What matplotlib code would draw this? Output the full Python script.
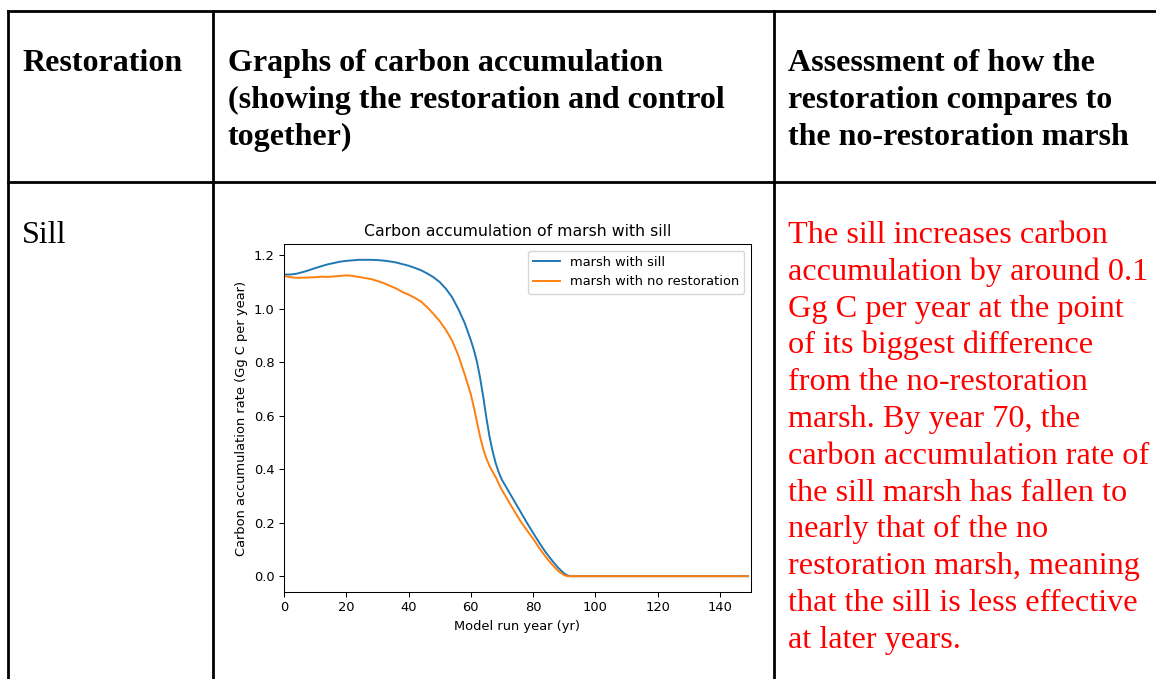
import matplotlib
matplotlib.use('Agg')
import matplotlib.pyplot as plt
from matplotlib.lines import Line2D

# carbon accumulation curves (Gg C per year)
years = [0, 2, 4, 6, 8, 10, 12, 14, 16, 18, 20, 22, 24, 26, 28, 30, 32, 34, 36, 38,
         40, 42, 44, 46, 48, 50, 52, 54, 56, 58, 60, 61, 62, 63, 64, 65, 66, 67, 68, 69,
         70, 72, 74, 76, 78, 80, 82, 84, 86, 88, 90, 91, 92, 100, 120, 149]
sill = [1.127, 1.127, 1.130, 1.136, 1.143, 1.151, 1.158, 1.165, 1.170, 1.175,
        1.178, 1.180, 1.182, 1.182, 1.182, 1.181, 1.179, 1.176, 1.172, 1.166,
        1.160, 1.152, 1.143, 1.131, 1.117, 1.099, 1.074, 1.042, 0.998, 0.947,
        0.882, 0.845, 0.800, 0.740, 0.670, 0.592, 0.522, 0.467, 0.422, 0.387,
        0.360, 0.320, 0.280, 0.240, 0.200, 0.162, 0.125, 0.090, 0.060, 0.032,
        0.010, 0.003, 0.0, 0.0, 0.0, 0.0]
no_restoration = [1.122, 1.117, 1.115, 1.115, 1.116, 1.117, 1.119, 1.118, 1.120, 1.122,
                  1.124, 1.122, 1.118, 1.114, 1.110, 1.103, 1.095, 1.085, 1.075, 1.062,
                  1.052, 1.040, 1.026, 1.005, 0.980, 0.953, 0.920, 0.880, 0.825, 0.755,
                  0.680, 0.630, 0.575, 0.520, 0.475, 0.440, 0.412, 0.390, 0.370, 0.345,
                  0.322, 0.282, 0.243, 0.205, 0.172, 0.140, 0.105, 0.073, 0.045, 0.020,
                  0.004, 0.0, 0.0, 0.0, 0.0, 0.0]

header_restoration = ['Restoration']
header_graphs = ['Graphs of carbon accumulation',
                 '(showing the restoration and control',
                 'together)']
header_assessment = ['Assessment of how the',
                     'restoration compares to',
                     'the no-restoration marsh']
row_label = 'Sill'
assessment_lines = ['The sill increases carbon',
                    'accumulation by around 0.1',
                    'Gg C per year at the point',
                    'of its biggest difference',
                    'from the no-restoration',
                    'marsh. By year 70, the',
                    'carbon accumulation rate of',
                    'the sill marsh has fallen to',
                    'nearly that of the no',
                    'restoration marsh, meaning',
                    'that the sill is less effective',
                    'at later years.']

W, H = 1156, 679
fig = plt.figure(figsize=(W / 100, H / 100), dpi=100)


def fx(x):
    return x / W


def fy(y):
    return 1 - y / H


def rule(x0, y0, x1, y1):
    fig.add_artist(Line2D([fx(x0), fx(x1)], [fy(y0), fy(y1)],
                          transform=fig.transFigure, color='black', lw=2.0,
                          solid_capstyle='projecting'))


# table grid
rule(8, 11, W, 11)
rule(8, 182, W, 182)
for xv in (8, 213, 774):
    rule(xv, 11, xv, H)

serif = 'Liberation Serif'
head = dict(family=serif, fontsize=23, fontweight='bold', color='black', va='baseline')
for i, line in enumerate(header_restoration):
    fig.text(fx(22), fy(71 + 36.8 * i), line, **head)
for i, line in enumerate(header_graphs):
    fig.text(fx(228), fy(71 + 36.8 * i), line, **head)
for i, line in enumerate(header_assessment):
    fig.text(fx(788), fy(71 + 36.8 * i), line, **head)

fig.text(fx(22), fy(243), row_label, family=serif, fontsize=23.2, color='black', va='baseline')
for i, line in enumerate(assessment_lines):
    fig.text(fx(788), fy(243 + 36.8 * i), line, family=serif, fontsize=23.2,
             color='#ff0000', va='baseline')

# embedded chart
ax = fig.add_axes([fx(284), fy(592), (751 - 284) / W, (592 - 244) / H])
ax.plot(years, sill, color='#1f77b4', lw=1.4, label='marsh with sill')
ax.plot(years, no_restoration, color='#ff7f0e', lw=1.4, label='marsh with no restoration')
ax.set_xlim(0, 150)
ax.set_title('Carbon accumulation of marsh with sill', fontsize=11.3)
ax.set_xlabel('Model run year (yr)', fontsize=9.4)
ax.set_ylabel('Carbon accumulation rate (Gg C per year)', fontsize=9.4)
ax.tick_params(labelsize=9.4, length=3.3, width=0.75)
for s in ax.spines.values():
    s.set_linewidth(0.75)
ax.legend(loc='upper right', fontsize=9.4)

fig.savefig('out.png', dpi=100)
